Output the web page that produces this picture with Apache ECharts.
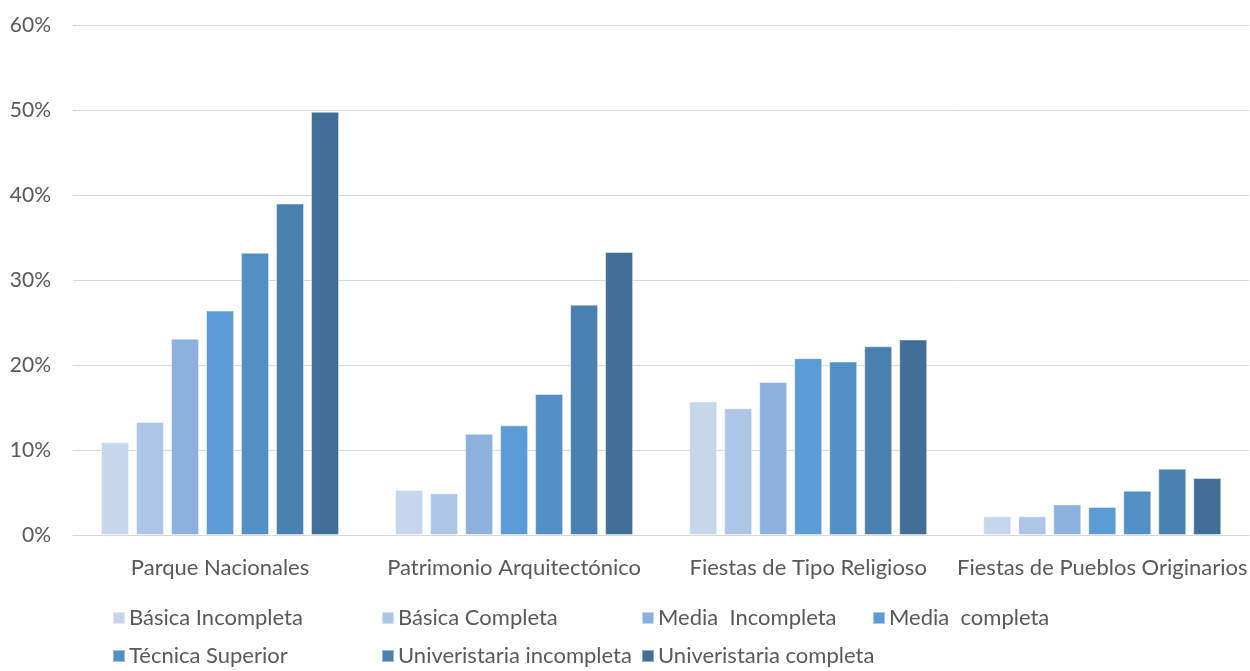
<!DOCTYPE html>
<html>
<head>
<meta charset="utf-8">
<script src="https://cdn.jsdelivr.net/npm/echarts@6/dist/echarts.min.js"></script>
<style>html,body{margin:0;padding:0;background:#fff}#c{width:1250px;height:671px}</style>
</head>
<body>
<div id="c"></div>
<script>
const categories = ['Parque Nacionales', 'Patrimonio Arquitectónico', 'Fiestas de Tipo Religioso', 'Fiestas de Pueblos Originarios'];
const seriesNames = ['Básica Incompleta', 'Básica Completa', 'Media  Incompleta', 'Media  completa', 'Técnica Superior', 'Univeristaria incompleta', 'Univeristaria completa'];
const basicaIncompleta = [10.9, 5.3, 15.7, 2.2];
const basicaCompleta = [13.3, 4.9, 14.9, 2.2];
const mediaIncompleta = [23.1, 11.9, 18.0, 3.6];
const mediaCompleta = [26.4, 12.9, 20.8, 3.3];
const tecnicaSuperior = [33.2, 16.6, 20.4, 5.2];
const univIncompleta = [39.0, 27.1, 22.2, 7.8];
const univCompleta = [49.8, 33.3, 23.0, 6.7];
const yTicks = [0, 10, 20, 30, 40, 50, 60];

const values = [basicaIncompleta, basicaCompleta, mediaIncompleta, mediaCompleta, tecnicaSuperior, univIncompleta, univCompleta];
const colors = ['#C6D6EC', '#ADC5E6', '#8DB1DD', '#5B9BD6', '#528FC5', '#4A80B0', '#416E97'];
const FONT = 'Lato';
const legendPos = [[112, 607], [381, 607], [641, 607], [872, 607], [112, 645], [381, 645], [641, 645]];

const chart = echarts.init(document.getElementById('c'), null, {renderer: 'canvas'});
chart.setOption({
  animation: false,
  color: colors,
  textStyle: {fontFamily: FONT},
  grid: {left: 73, top: 25, width: 1180, height: 510, containLabel: false},
  legend: seriesNames.map((n, i) => ({
    data: [n], left: legendPos[i][0], top: legendPos[i][1], padding: 0,
    itemWidth: 12, itemHeight: 12, itemGap: 4, icon: 'rect',
    textStyle: {color: '#595959', fontSize: 22, fontFamily: FONT, padding: [0, 0, 0, -1]}
  })),
  xAxis: {
    type: 'category', data: categories,
    axisLine: {lineStyle: {color: '#d9d9d9', width: 1}},
    axisTick: {show: false},
    axisLabel: {color: '#595959', fontSize: 22, margin: 22, fontFamily: FONT, interval: 0}
  },
  yAxis: {
    type: 'value', min: yTicks[0], max: yTicks[yTicks.length - 1], interval: 10,
    axisLine: {show: false}, axisTick: {show: false},
    splitLine: {lineStyle: {color: '#d9d9d9', width: 1}},
    axisLabel: {color: '#595959', fontSize: 21, margin: 22, fontFamily: FONT, formatter: '{value}%'}
  },
  series: seriesNames.map((n, i) => ({
    name: n, type: 'bar', data: values[i],
    barWidth: 28, barGap: '25%',
    itemStyle: {color: colors[i], borderColor: 'rgba(255,255,255,0.45)', borderWidth: 1}
  }))
});
</script>
</body>
</html>
